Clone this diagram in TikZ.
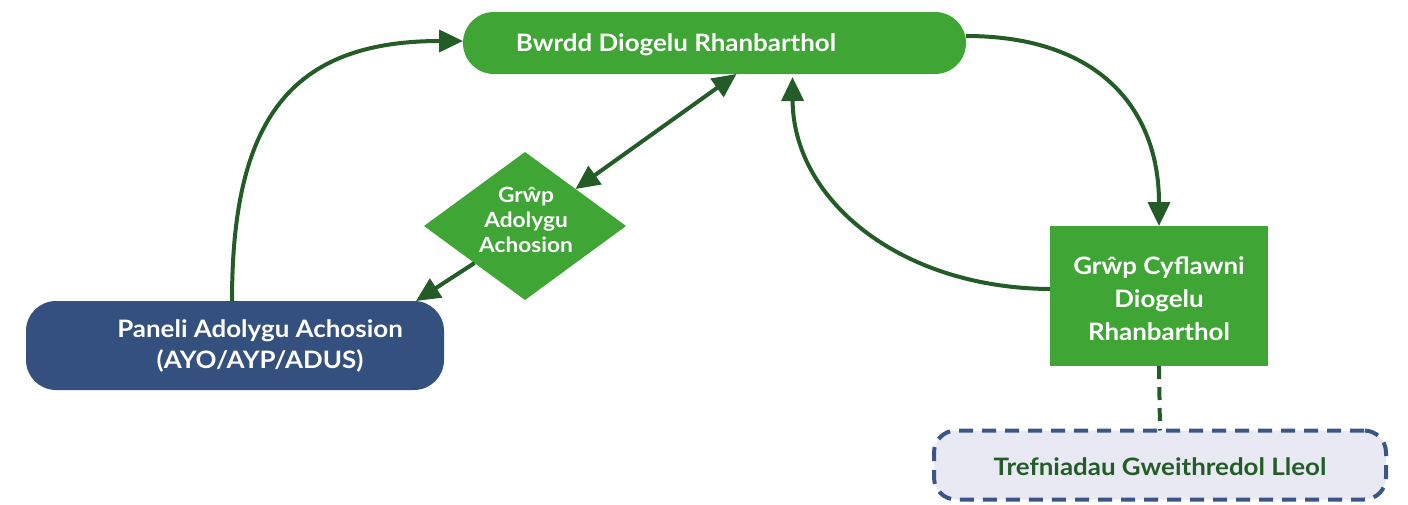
\documentclass[tikz,border=0pt]{standalone}
\usepackage{fontspec}
\setmainfont{Lato}[FakeStretch=1.08]
\usetikzlibrary{arrows.meta,shapes.geometric}
\definecolor{lgreen}{HTML}{3FA535}
\definecolor{dgreen}{HTML}{245C28}
\definecolor{nblue}{HTML}{34507E}
\definecolor{dblue}{HTML}{3B5685}
\definecolor{lfill}{HTML}{E8E9F2}
\begin{document}
\begin{tikzpicture}[x=1pt,y=-1pt,
  tip/.tip={Triangle[length=24pt,width=22pt]},
  conn/.style={draw=dgreen, line width=4pt, -tip},
  wtxt/.style={text=white, font=\bfseries\fontsize{24}{31}\selectfont, align=center, inner sep=0pt},
  dtxt/.style={text=white, font=\bfseries\fontsize{21}{25}\selectfont, align=center, inner sep=0pt},
  box/.style={inner sep=0pt, outer sep=0pt}
]
\useasboundingbox (0,0) rectangle (1408,504);
% nodes
\node[box, fill=lgreen, rounded corners=31pt, minimum width=503pt, minimum height=62pt] (bdr) at (714.5,43) {};
\node[wtxt] (bdrt) at (676,45) {Bwrdd Diogelu Rhanbarthol};
\node[box, diamond, fill=lgreen, minimum width=202pt, minimum height=148pt] (gaa) at (525,226) {};
\node[dtxt] (gaat) at (526,220) {Grŵp\\Adolygu\\Achosion};
\node[box, fill=nblue, rounded corners=30pt, minimum width=418pt, minimum height=89pt] (pan) at (235,345.5) {};
\node[wtxt] (pant) at (260,346) {Paneli Adolygu Achosion\\(AYO/AYP/ADUS)};
\node[box, fill=lgreen, minimum width=218pt, minimum height=140pt] (gcd) at (1159,296) {};
\node[wtxt, font=\bfseries\fontsize{24}{33}\selectfont] (gcdt) at (1159,299) {Grŵp Cyflawni\\Diogelu\\Rhanbarthol};
\node[box, fill=lfill, draw=dblue, line width=4pt, dash pattern=on 14pt off 9pt, rounded corners=22pt, minimum width=452pt, minimum height=69pt] (tgl) at (1160,465) {};
\node[text=dgreen, font=\bfseries\fontsize{24}{31}\selectfont, inner sep=0pt] (tglt) at (1160,467) {Trefniadau Gweithredol Lleol};
% connectors
\draw[conn] ([xshift=-3pt]pan.north) .. controls (232,120) and (290,41) .. ([yshift=2pt]bdr.west);
\draw[conn, tip-tip] (gaa.north east) -- ([xshift=22pt]bdr.south);
\draw[conn] (gaa.south west) -- ([xshift=-28pt]pan.north east);
\draw[conn] ([yshift=7pt]bdr.east) .. controls (1100,36) and (1159,110) .. (gcd.north);
\draw[conn] ([yshift=7pt]gcd.west) .. controls (900,288) and (793,200) .. ([xshift=78pt,yshift=-3pt]bdr.south);
\draw[dgreen, line width=4pt, dash pattern=on 13pt off 8pt] (gcd.south) -- (tgl.north);
\end{tikzpicture}
\end{document}
